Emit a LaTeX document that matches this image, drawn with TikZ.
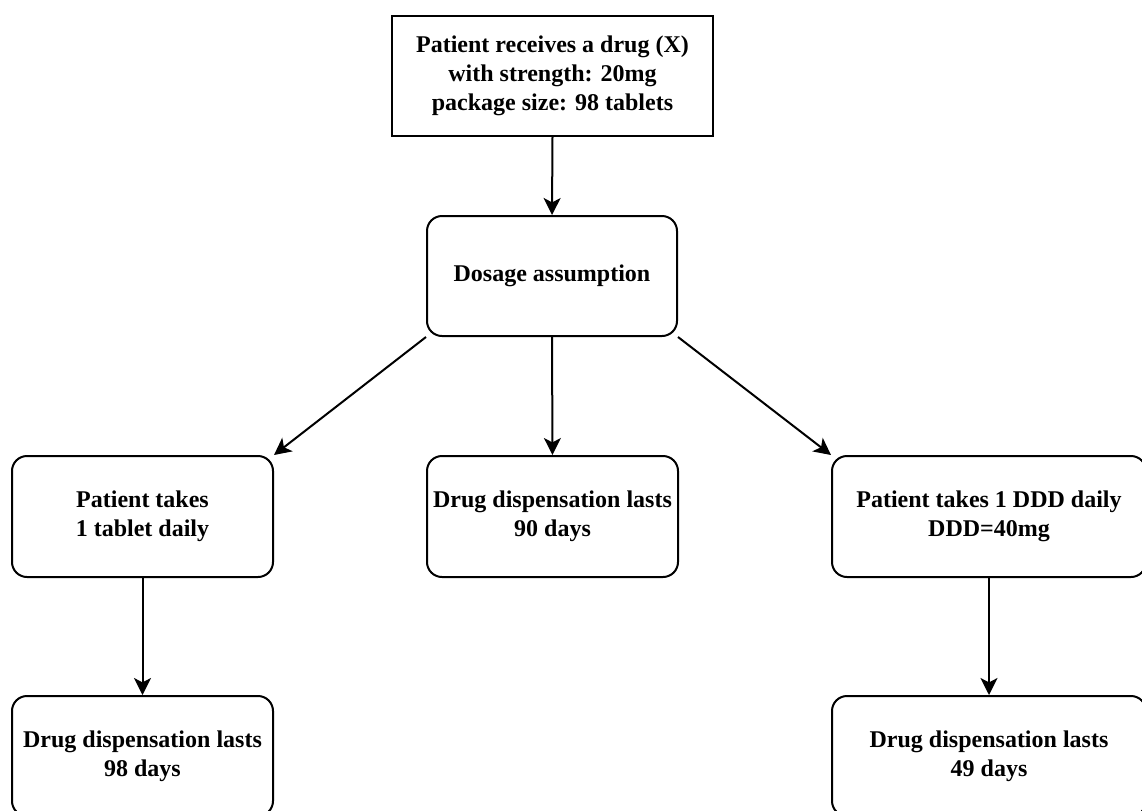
\documentclass[tikz,border=0pt]{standalone}
\usepackage{fontspec}
\setmainfont{Liberation Serif}
\usetikzlibrary{arrows.meta}
\tikzset{
  box/.style={draw=black, line width=1pt, inner sep=0pt, align=center,
    font=\bfseries\fontsize{12}{14.4}\selectfont, minimum height=60pt},
  rbox/.style={box, rounded corners=7.5pt},
  arr/.style={line width=1pt, -{Stealth[length=8.5pt,width=8.5pt,inset=2.2pt]}},
}
\begin{document}
\begin{tikzpicture}[x=0.5pt,y=-0.5pt]
\useasboundingbox (0,0) rectangle (1142,810);
\clip (0,0) rectangle (1142,810);
\fill[white] (0,0) rectangle (1142,810);
\node[box, minimum width=160.5pt] (top) at (552.5,76)
  {Patient receives a drug (X)\\with strength: 20mg\\package size: 98 tablets};
\node[rbox, minimum width=125pt] (dose) at (552,276) {Dosage assumption};
\node[rbox, minimum width=130.5pt, minimum height=60.5pt] (left) at (142.5,516.5)
  {Patient takes\\1 tablet daily};
\node[rbox, minimum width=125.5pt, minimum height=60.5pt] (mid) at (552.5,516.5)
  {Drug dispensation lasts\\90 days};
\node[rbox, minimum width=157pt, minimum height=60.5pt] (right) at (989,516.5)
  {Patient takes 1 DDD daily\\DDD=40mg};
\node[rbox, minimum width=130.5pt] (lbot) at (142.5,756)
  {Drug dispensation lasts\\98 days};
\node[rbox, minimum width=157pt] (rbot) at (989,756)
  {Drug dispensation lasts\\49 days};
\draw[arr] (top.south) -- (dose.north);
\draw[arr] (dose.south) -- (mid.north);
\draw[arr] (dose.south west) -- (left.north east);
\draw[arr] (dose.south east) -- (right.north west);
\draw[arr] (left.south) -- (lbot.north);
\draw[arr] (right.south) -- (rbot.north);
\end{tikzpicture}
\end{document}
